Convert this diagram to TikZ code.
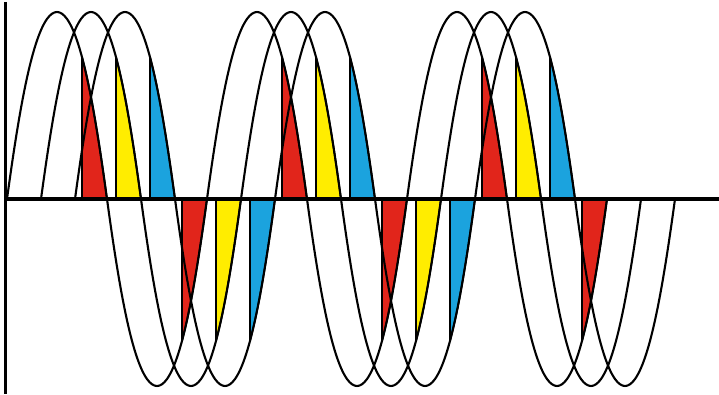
\documentclass[tikz,border=0pt]{standalone}
\definecolor{phasered}{HTML}{E1251B}
\definecolor{phaseyellow}{HTML}{FFED00}
\definecolor{phaseblue}{HTML}{1BA3DE}
\usepackage{tikz}

\begin{document}
\begin{tikzpicture}[x=1pt, y=1pt,
    declare function={wav(\t)=195+187*sin(1.8*\t)*(1.25-0.25*abs(sin(1.8*\t)));},
    wave/.style={line width=2.1pt, smooth, samples=241},
    slice/.style={line width=1.7pt, draw=black, line join=round}]
    \useasboundingbox (0,0) rectangle (719,394);
    % coloured tails of the half waves
    \foreach \off/\col/\last in {7/phasered/575, 41/phaseyellow/475, 75/phaseblue/475}{%
      \foreach \from in {75,175,...,\last}{%
        \filldraw[slice, fill=\col] ({\off+\from},195)
          -- plot[smooth, samples=20, domain=\from:\from+25] ({\off+\x},{wav(\x)})
          -- cycle;
      }
    }
    % the three shifted waves
    \foreach \off in {7,41,75}{%
      \draw[wave, domain=0:600] plot ({\off+\x},{wav(\x)});
    }
    \draw[line width=3.5pt] (5.5,195) -- (719,195);
    \draw[line width=3pt] (5.5,392) -- (5.5,0);
  \end{tikzpicture}
\end{document}
